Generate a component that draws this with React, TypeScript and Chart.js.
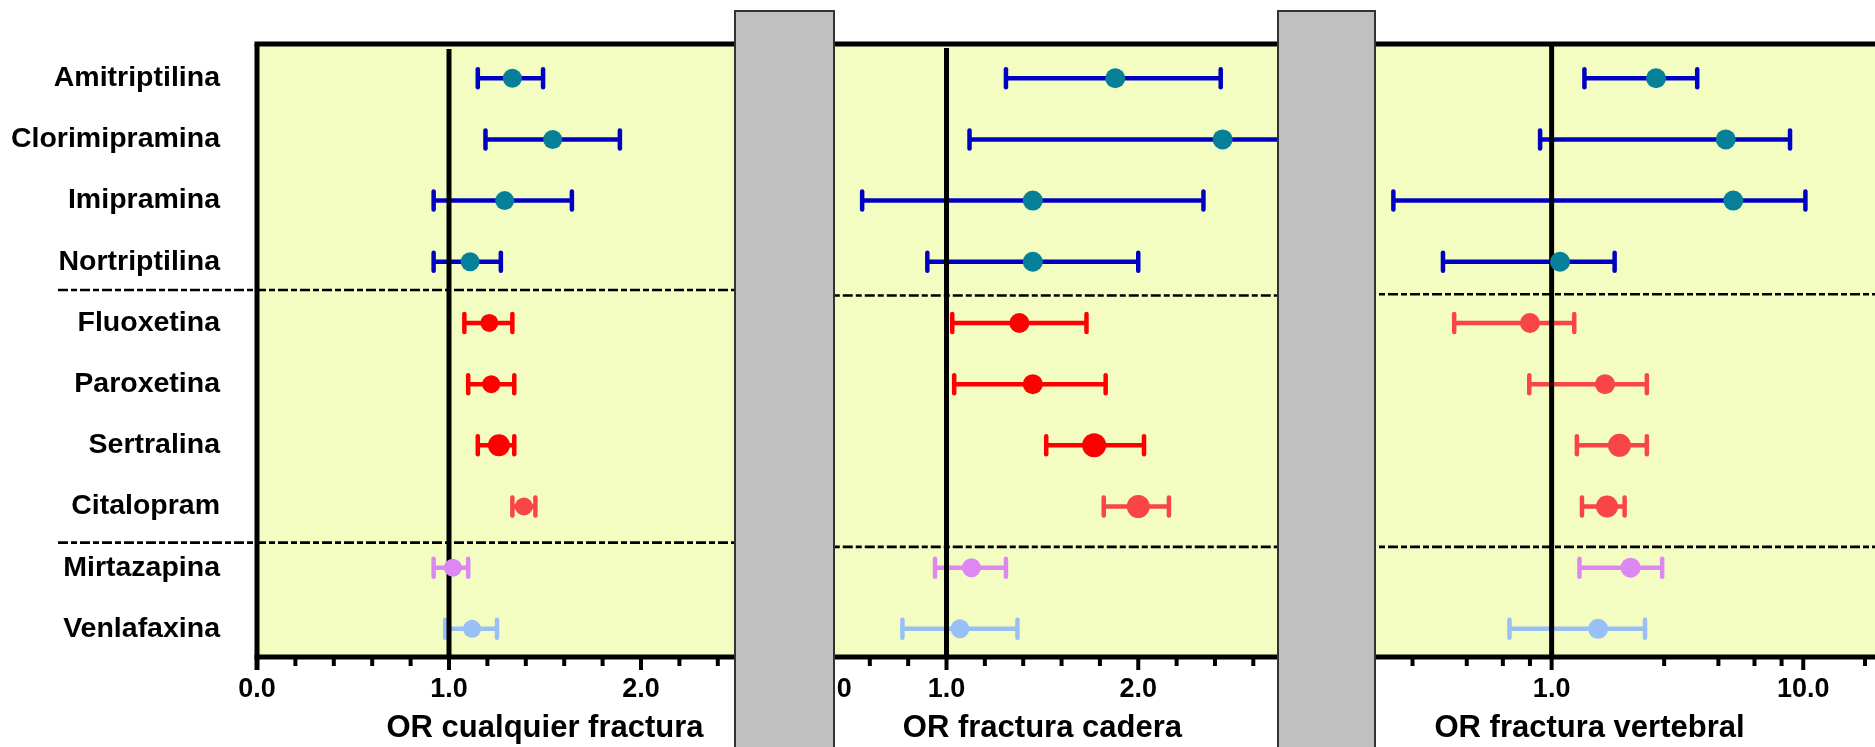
import React, { useEffect, useRef } from 'react';
import { Chart, registerables } from 'chart.js';

Chart.register(...registerables);

// ---------------- DATA ----------------
const drugs = [
  'Amitriptilina', 'Clorimipramina', 'Imipramina', 'Nortriptilina',
  'Fluoxetina', 'Paroxetina', 'Sertralina', 'Citalopram',
  'Mirtazapina', 'Venlafaxina',
];

// OR cualquier fractura
const orAny = [1.33, 1.54, 1.29, 1.11, 1.21, 1.22, 1.26, 1.39, 1.02, 1.12];
const lowAny = [1.15, 1.19, 0.92, 0.92, 1.08, 1.10, 1.15, 1.33, 0.92, 0.98];
const highAny = [1.49, 1.89, 1.64, 1.27, 1.33, 1.34, 1.34, 1.45, 1.10, 1.25];

// OR fractura cadera
const orHip = [1.88, 2.44, 1.45, 1.45, 1.38, 1.45, 1.77, 2.0, 1.13, 1.07];
const lowHip = [1.31, 1.12, 0.56, 0.9, 1.03, 1.04, 1.52, 1.82, 0.94, 0.77];
const highHip = [2.43, 3.4, 2.34, 2.0, 1.73, 1.83, 2.03, 2.16, 1.31, 1.37];

// OR fractura vertebral
const orVert = [2.6, 4.92, 5.27, 1.08, 0.82, 1.63, 1.86, 1.66, 2.06, 1.53];
const lowVert = [1.35, 0.9, 0.235, 0.37, 0.41, 0.815, 1.26, 1.32, 1.29, 0.68];
const highVert = [3.79, 8.86, 10.2, 1.78, 1.23, 2.39, 2.39, 1.95, 2.75, 2.35];

// separators between drug groups (in row units)
const sepAny = [4.46, 8.59];
const sepHip = [4.55, 8.66];
const sepVert = [4.53, 8.66];

// axis ticks
const linTicks = [0, 0.2, 0.4, 0.6, 0.8, 1, 1.2, 1.4, 1.6, 1.8, 2, 2.2, 2.4, 2.6, 2.8, 3];
const linLabels = [0, 1, 2, 3];
const logTicks = [0.1, 0.28, 0.46, 0.64, 0.82, 1, 2.8, 4.6, 6.4, 8.2, 10, 17.6];
const logLabels = [0.1, 1, 10];

const titles = ['OR cualquier fractura', 'OR fractura cadera', 'OR fractura vertebral'];

// ---------------- STYLE ----------------
const FONT = "'Liberation Sans', Arial, Helvetica, sans-serif";
const TEAL = '#067F98';
const BLUE = '#0000C2';
const RED = '#FF0000';
const CORAL = '#F84646';
const VIOLET = '#DD88F2';
const LIGHTBLUE = '#98C0F6';
const BG = '#F3FDC1';

const ptColors12 = [TEAL, TEAL, TEAL, TEAL, RED, RED, RED, CORAL, VIOLET, LIGHTBLUE];
const barColors12 = [BLUE, BLUE, BLUE, BLUE, RED, RED, RED, CORAL, VIOLET, LIGHTBLUE];
const ptColors3 = [TEAL, TEAL, TEAL, TEAL, CORAL, CORAL, CORAL, CORAL, VIOLET, LIGHTBLUE];
const barColors3 = [BLUE, BLUE, BLUE, BLUE, CORAL, CORAL, CORAL, CORAL, VIOLET, LIGHTBLUE];

const radii1 = [9.5, 9.5, 9.5, 9.5, 9, 9, 11, 9, 9, 9];
const radii2 = [10, 10, 10, 10, 10, 10, 12, 11.5, 9.5, 9.5];
const radii3 = [10, 10, 10, 10, 10, 10, 11.5, 11, 10, 10];

const H = 747;
const PLOT_TOP = 44;
const XAXIS_H = 90;

const near = (a: number, b: number) => Math.abs(a - b) < 1e-6;

const forestPlugin = {
  id: 'forest',
  beforeDraw(chart: any) {
    const { ctx, chartArea: a } = chart;
    ctx.save();
    ctx.fillStyle = BG;
    ctx.fillRect(a.left, a.top, a.right - a.left, a.bottom - a.top);
    ctx.restore();
  },
  beforeDatasetsDraw(chart: any, _a: any, o: any) {
    const { ctx, chartArea: a } = chart;
    const x = chart.scales.x;
    const y = chart.scales.y;
    ctx.save();
    // dashed separators
    ctx.strokeStyle = '#000';
    ctx.lineWidth = 2.6;
    ctx.setLineDash([10, 3, 6, 3]);
    o.separators.forEach((v: number) => {
      const py = y.getPixelForValue(v);
      ctx.beginPath();
      ctx.moveTo(o.sepStart != null ? o.sepStart : a.left, py);
      ctx.lineTo(a.right, py);
      ctx.stroke();
    });
    ctx.setLineDash([]);
    // error bars
    ctx.save();
    ctx.beginPath();
    ctx.rect(a.left, a.top, a.right - a.left, a.bottom - a.top);
    ctx.clip();
    o.low.forEach((lo: number, i: number) => {
      const hi = o.high[i];
      const py = y.getPixelForValue(i + 1);
      const x1 = x.getPixelForValue(lo);
      const x2 = x.getPixelForValue(hi);
      ctx.strokeStyle = o.colors[i];
      ctx.lineWidth = 4.5;
      ctx.lineCap = 'butt';
      ctx.beginPath();
      ctx.moveTo(x1, py);
      ctx.lineTo(x2, py);
      ctx.stroke();
      ctx.lineCap = 'round';
      ctx.lineWidth = 4.5;
      [x1, x2].forEach((px) => {
        ctx.beginPath();
        ctx.moveTo(px, py - 9);
        ctx.lineTo(px, py + 9);
        ctx.stroke();
      });
    });
    ctx.restore();
    // reference line at OR = 1
    const rx = x.getPixelForValue(1);
    ctx.strokeStyle = '#000';
    ctx.lineWidth = 5;
    ctx.lineCap = 'butt';
    ctx.beginPath();
    ctx.moveTo(rx, a.top + o.refGap);
    ctx.lineTo(rx, a.bottom);
    ctx.stroke();
    ctx.restore();
  },
  afterDraw(chart: any, _a: any, o: any) {
    const { ctx, chartArea: a } = chart;
    const x = chart.scales.x;
    ctx.save();
    ctx.strokeStyle = '#000';
    ctx.lineCap = 'butt';
    ctx.lineWidth = 5;
    // top frame
    ctx.beginPath();
    ctx.moveTo(a.left - 2.5, a.top);
    ctx.lineTo(a.right, a.top);
    ctx.stroke();
    // bottom axis line
    ctx.beginPath();
    ctx.moveTo(a.left - 2.5, a.bottom);
    ctx.lineTo(a.right, a.bottom);
    ctx.stroke();
    // left frame
    if (o.leftBorder) {
      ctx.beginPath();
      ctx.moveTo(a.left, a.top);
      ctx.lineTo(a.left, a.bottom + 13);
      ctx.stroke();
    }
    // tick marks
    ctx.lineWidth = 4;
    o.ticks.forEach((t: number) => {
      const px = x.getPixelForValue(t);
      const major = o.majors.some((m: number) => near(m, t));
      ctx.beginPath();
      ctx.moveTo(px, a.bottom);
      ctx.lineTo(px, a.bottom + (major ? 13 : 9));
      ctx.stroke();
    });
    ctx.restore();
  },
};

type PanelProps = {
  idx: number;
  left: number;
  width: number;
  padLeft: number;
  padRight: number;
  showY: boolean;
  log: boolean;
  or: number[];
  low: number[];
  high: number[];
  seps: number[];
  ptColors: string[];
  barColors: string[];
  radii: number[];
  refGap: number;
};

function Panel(p: PanelProps) {
  const ref = useRef<HTMLCanvasElement | null>(null);
  useEffect(() => {
    if (!ref.current) return;
    const ticksArr = p.log ? logTicks : linTicks;
    const labelsArr = p.log ? logLabels : linLabels;
    const chart = new Chart(ref.current, {
      type: 'scatter',
      data: {
        datasets: [
          {
            data: p.or.map((v, i) => ({ x: v, y: i + 1 })),
            pointRadius: p.radii,
            pointBackgroundColor: p.ptColors,
            pointBorderWidth: 0,
            pointBorderColor: 'rgba(0,0,0,0)',
            showLine: false,
          } as any,
        ],
      },
      options: {
        animation: false,
        responsive: false,
        events: [],
        layout: { padding: { top: PLOT_TOP, left: p.padLeft, right: p.padRight, bottom: 0 } },
        plugins: {
          legend: { display: false },
          tooltip: { enabled: false },
          forest: {
            separators: p.seps,
            sepStart: p.showY ? 58 : null,
            low: p.low,
            high: p.high,
            colors: p.barColors,
            refGap: p.refGap,
            leftBorder: p.showY,
            ticks: ticksArr,
            majors: labelsArr,
          },
        } as any,
        scales: {
          x: {
            type: p.log ? 'logarithmic' : 'linear',
            min: p.log ? 0.1 : 0,
            max: p.log ? 20 : 3,
            grid: { display: false, drawTicks: false },
            border: { display: false },
            afterBuildTicks: (s: any) => {
              s.ticks = ticksArr.map((v) => ({ value: v }));
            },
            afterFit: (s: any) => {
              s.height = XAXIS_H;
            },
            ticks: {
              autoSkip: false,
              maxRotation: 0,
              minRotation: 0,
              padding: 16,
              color: '#000',
              font: { family: FONT, size: 27, weight: 'bold' },
              callback: (v: any) => {
                const n = Number(v);
                return labelsArr.some((m) => near(m, n)) ? n.toFixed(1) : '';
              },
            },
            title: {
              display: true,
              text: titles[p.idx],
              color: '#000',
              font: { family: FONT, size: 31, weight: 'bold' },
              padding: { top: 0, bottom: 0 },
            },
          } as any,
          y: {
            type: 'linear',
            display: p.showY,
            reverse: true,
            min: 0.44,
            max: 10.46,
            grid: { display: false, drawTicks: false },
            border: { display: false },
            afterBuildTicks: (s: any) => {
              s.ticks = drugs.map((_d, i) => ({ value: i + 1 }));
            },
            afterFit: (s: any) => {
              if (p.showY) s.width = 257 - p.padLeft;
              s.paddingTop = 0;
              s.paddingBottom = 0;
            },
            ticks: {
              autoSkip: false,
              padding: 37,
              color: '#000',
              font: { family: FONT, size: 28.5, weight: 'bold' },
              callback: (v: any) => drugs[Math.round(Number(v)) - 1] || '',
            },
          } as any,
        },
      },
      plugins: [forestPlugin as any],
    });
    return () => chart.destroy();
  }, []);
  return (
    <canvas
      ref={ref}
      width={p.width}
      height={H}
      style={{ position: 'absolute', left: p.left, top: 0, width: p.width, height: H }}
    />
  );
}

const grayBox = (left: number, width: number): React.CSSProperties => ({
  position: 'absolute',
  left,
  top: 10,
  width,
  height: 760,
  background: '#C0C0C0',
  border: '2px solid #333',
  boxSizing: 'border-box',
  zIndex: 5,
});

export default function App() {
  return (
    <div
      style={{
        position: 'fixed',
        left: 0,
        top: 0,
        width: 1875,
        height: H,
        overflow: 'hidden',
        background: '#fff',
      }}
    >
      <Panel
        idx={0}
        left={0}
        width={870}
        padLeft={0}
        padRight={37}
        showY={true}
        log={false}
        or={orAny}
        low={lowAny}
        high={highAny}
        seps={sepAny}
        ptColors={ptColors12}
        barColors={barColors12}
        radii={radii1}
        refGap={5}
      />
      <Panel
        idx={1}
        left={720}
        width={660}
        padLeft={31}
        padRight={50}
        showY={false}
        log={false}
        or={orHip}
        low={lowHip}
        high={highHip}
        seps={sepHip}
        ptColors={ptColors12}
        barColors={barColors12}
        radii={radii2}
        refGap={4}
      />
      <Panel
        idx={2}
        left={1260}
        width={640}
        padLeft={40}
        padRight={21}
        showY={false}
        log={true}
        or={orVert}
        low={lowVert}
        high={highVert}
        seps={sepVert}
        ptColors={ptColors3}
        barColors={barColors3}
        radii={radii3}
        refGap={0}
      />
      <div style={grayBox(734, 101)} />
      <div style={grayBox(1277, 99)} />
    </div>
  );
}
